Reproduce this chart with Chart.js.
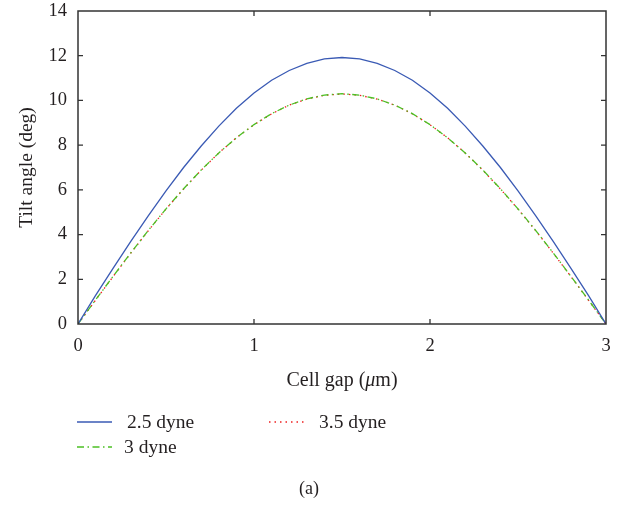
<!DOCTYPE html>
<html>
<head>
<meta charset="utf-8">
<script src="https://cdn.jsdelivr.net/npm/chart.js@4.4.1/dist/chart.umd.min.js"></script>
<style>
html,body{margin:0;padding:0;background:#fff;}
#wrap{width:624px;height:505px;position:relative;}
</style>
</head>
<body>
<div id="wrap"><canvas id="c" width="624" height="505"></canvas></div>
<script>
const xs = [0,0.1,0.2,0.3,0.4,0.5,0.6,0.7,0.8,0.9,1.0,1.1,1.2,1.3,1.4,1.5,1.6,1.7,1.8,1.9,2.0,2.1,2.2,2.3,2.4,2.5,2.6,2.7,2.8,2.9,3.0];
const blue = [0,1.28,2.5,3.7,4.85,5.95,7.0,7.96,8.85,9.65,10.33,10.9,11.34,11.66,11.86,11.92,11.86,11.66,11.34,10.9,10.33,9.65,8.85,7.96,7.0,5.95,4.85,3.7,2.5,1.28,0];
const green = [0,1.08,2.14,3.18,4.19,5.15,6.05,6.89,7.65,8.33,8.92,9.41,9.79,10.07,10.24,10.3,10.24,10.07,9.79,9.41,8.92,8.33,7.65,6.89,6.05,5.15,4.19,3.18,2.14,1.08,0];
const red = [0,1.07,2.13,3.17,4.18,5.14,6.04,6.88,7.65,8.33,8.91,9.4,9.79,10.06,10.23,10.29,10.23,10.06,9.79,9.4,8.91,8.33,7.65,6.88,6.04,5.14,4.18,3.17,2.13,1.07,0];
const labels = ['2.5 dyne','3 dyne','3.5 dyne'];
const xTicks = [0,1,2,3];
const yTicks = [0,2,4,6,8,10,12,14];

const SERIF = '"Liberation Serif","DejaVu Serif",serif';
const TXT = '#231f20';
const colors = ['#3a5ab4','#4cc024','#ee2020'];
const dashes = [[], [7,3.5,1.5,3.5], [1.5,4]];

function pts(arr){ return xs.map((x,i)=>({x:x,y:arr[i]})); }

const decor = {
  id:'decor',
  afterDraw(chart){
    const ctx = chart.ctx, a = chart.chartArea;
    const sx = chart.scales.x, sy = chart.scales.y;
    ctx.save();
    ctx.strokeStyle = '#333';
    ctx.lineWidth = 1.5;
    ctx.strokeRect(a.left, a.top, a.right-a.left, a.bottom-a.top);
    ctx.lineWidth = 1.3;
    ctx.beginPath();
    xTicks.forEach(v=>{
      if (v===xTicks[0]||v===xTicks[xTicks.length-1]) return;
      const p = sx.getPixelForValue(v);
      ctx.moveTo(p, a.bottom); ctx.lineTo(p, a.bottom-5);
      ctx.moveTo(p, a.top); ctx.lineTo(p, a.top+5);
    });
    yTicks.forEach(v=>{
      if (v===yTicks[0]||v===yTicks[yTicks.length-1]) return;
      const p = sy.getPixelForValue(v);
      ctx.moveTo(a.left, p); ctx.lineTo(a.left+5, p);
      ctx.moveTo(a.right, p); ctx.lineTo(a.right-5, p);
    });
    ctx.stroke();

    // x title with italic mu
    ctx.fillStyle = TXT;
    ctx.textBaseline = 'alphabetic';
    const fN = '20px '+SERIF, fI = 'italic 20px '+SERIF;
    const parts = [['Cell gap (',fN],['\u03bc',fI],['m)',fN]];
    let w = 0;
    parts.forEach(p=>{ctx.font=p[1]; w+=ctx.measureText(p[0]).width;});
    let x0 = (a.left+a.right)/2 - w/2;
    parts.forEach(p=>{ctx.font=p[1]; ctx.fillText(p[0], x0, 386); x0+=ctx.measureText(p[0]).width;});

    // legend
    const ds = chart.data.datasets;
    const pos = [[77,112,127,422],[77,112,124,447],[269,305,319,422]];
    ctx.font = '19.5px '+SERIF;
    ds.forEach((d,i)=>{
      const [l1,l2,tx,ly] = pos[i];
      ctx.strokeStyle = d.borderColor;
      ctx.lineWidth = 1.3;
      ctx.setLineDash(d.borderDash||[]);
      ctx.beginPath(); ctx.moveTo(l1,ly); ctx.lineTo(l2,ly); ctx.stroke();
      ctx.setLineDash([]);
      ctx.fillStyle = TXT;
      ctx.textBaseline = 'alphabetic';
      ctx.fillText(d.label, tx, ly+5.5);
    });
    ctx.textAlign = 'center';
    ctx.font = '18px '+SERIF;
    ctx.fillText('(a)', 309, 494);
    ctx.restore();
  }
};

new Chart(document.getElementById('c'), {
  type:'line',
  data:{
    datasets:[
      {label:labels[0], data:pts(blue), borderColor:colors[0], borderDash:dashes[0], borderWidth:1.3, pointRadius:0, tension:0, fill:false},
      {label:labels[1], data:pts(green), borderColor:colors[1], borderDash:dashes[1], borderWidth:1.3, pointRadius:0, tension:0, fill:false},
      {label:labels[2], data:pts(red), borderColor:colors[2], borderDash:dashes[2], borderWidth:1.3, pointRadius:0, tension:0, fill:false}
    ]
  },
  options:{
    responsive:false,
    animation:false,
    devicePixelRatio:1,
    layout:{padding:{left:0,right:18,top:11,bottom:115}},
    plugins:{legend:{display:false}, tooltip:{enabled:false}},
    scales:{
      x:{
        type:'linear', min:0, max:3,
        afterBuildTicks(s){ s.ticks = xTicks.map(v=>({value:v})); },
        ticks:{font:{family:SERIF,size:18.5}, color:TXT, padding:11},
        grid:{display:false, drawTicks:false},
        border:{display:false},
        afterFit(s){ s.height = 66; s.paddingLeft = 0; s.paddingRight = 0; }
      },
      y:{
        type:'linear', min:0, max:14,
        afterBuildTicks(s){ s.ticks = yTicks.map(v=>({value:v})); },
        ticks:{font:{family:SERIF,size:18.5}, color:TXT, padding:11},
        grid:{display:false, drawTicks:false},
        border:{display:false},
        title:{display:true, text:'Tilt angle (deg)', font:{family:SERIF,size:19.5}, color:TXT, padding:{top:15,bottom:0}},
        afterFit(s){ s.width = 78; s.paddingTop = 0; s.paddingBottom = 0; }
      }
    }
  },
  plugins:[decor]
});
</script>
</body>
</html>
